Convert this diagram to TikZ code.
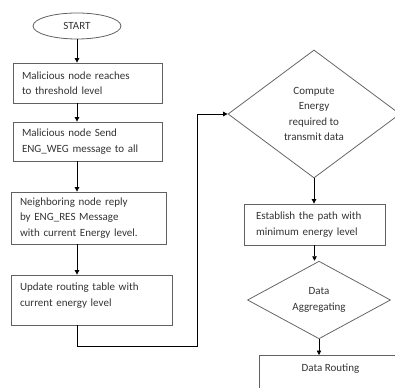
\documentclass[tikz,border=0pt]{standalone}
\usepackage{fontspec}
\setmainfont{Carlito}
\usetikzlibrary{shapes.geometric,arrows.meta}

\begin{document}
\begin{tikzpicture}[x=1pt,y=-1pt,
	line width=0.8pt,
	every node/.style={text=black!80,font=\fontsize{11}{15.5}\selectfont},
	blk/.style={draw=black!62,rectangle,inner xsep=9pt,inner ysep=0pt,align=left},
	dec/.style={draw=black!60,diamond,inner sep=0pt,align=center},
	flow/.style={draw=black,-{Triangle[width=4.5pt,length=4.5pt]}}]
		\useasboundingbox (0,0) rectangle (395,387);
		\clip (0,0) rectangle (395,387);
		%Left column
		\node[draw=black!62,ellipse,minimum width=88pt,minimum height=26pt] (start) at (77,26) {START};
		\node[blk,minimum width=149pt,minimum height=40pt,text width=131pt] (reach) at (87.5,83) {Malicious node reaches\\to threshold level};
		\node[blk,minimum width=149pt,minimum height=39pt,text width=131pt] (send) at (87.5,141.5) {Malicious node Send\\ENG\_WEG message to all};
		\node[blk,minimum width=155pt,minimum height=52pt,text width=137pt] (reply) at (88.5,218) {\makebox[137pt][s]{Neighboring node reply}\\\makebox[137pt][s]{by ENG\_RES Message}\\with current Energy level.};
		\node[blk,minimum width=161pt,minimum height=50pt,text width=143pt] (update) at (91.5,300) {Update routing table with\\current energy level\\[-5pt]\mbox{}};
		%Right column
		\node[dec,minimum width=172pt,minimum height=128pt] (compute) at (314,114) {Compute\\Energy\\required to\\transmit data};
		\node[blk,minimum width=141pt,minimum height=41pt,inner xsep=12pt,text width=117pt] (path) at (314.5,224.5) {Establish the path with\\minimum energy level};
		\node[dec,minimum width=143pt,minimum height=70pt] (aggr) at (319,300) {Data\\Aggregating};
		\node[blk,minimum width=142pt,minimum height=42pt,align=center,anchor=north west] (route) at (259,355) {\raisebox{18pt}{Data Routing}};
		%Connectors
		\coordinate (turn) at (197,346);
		\draw[flow] (start.south) -- (start.south |- reach.north);
		\draw[flow] (reach.south -| start.south) -- (send.north -| start.south);
		\draw[flow] (send.south -| start.south) -- (reply.north -| start.south);
		\draw[flow] (reply.south -| start.south) -- (update.north -| start.south);
		\draw[flow] (update.south -| start.south) |- (turn) |- (compute.west);
		\draw[flow] (compute.south) -- (compute.south |- path.north);
		\draw[flow] (path.south) -- (path.south |- aggr.north);
		\draw[flow] (aggr.south) -- (aggr.south |- route.north);
\end{tikzpicture}
\end{document}
